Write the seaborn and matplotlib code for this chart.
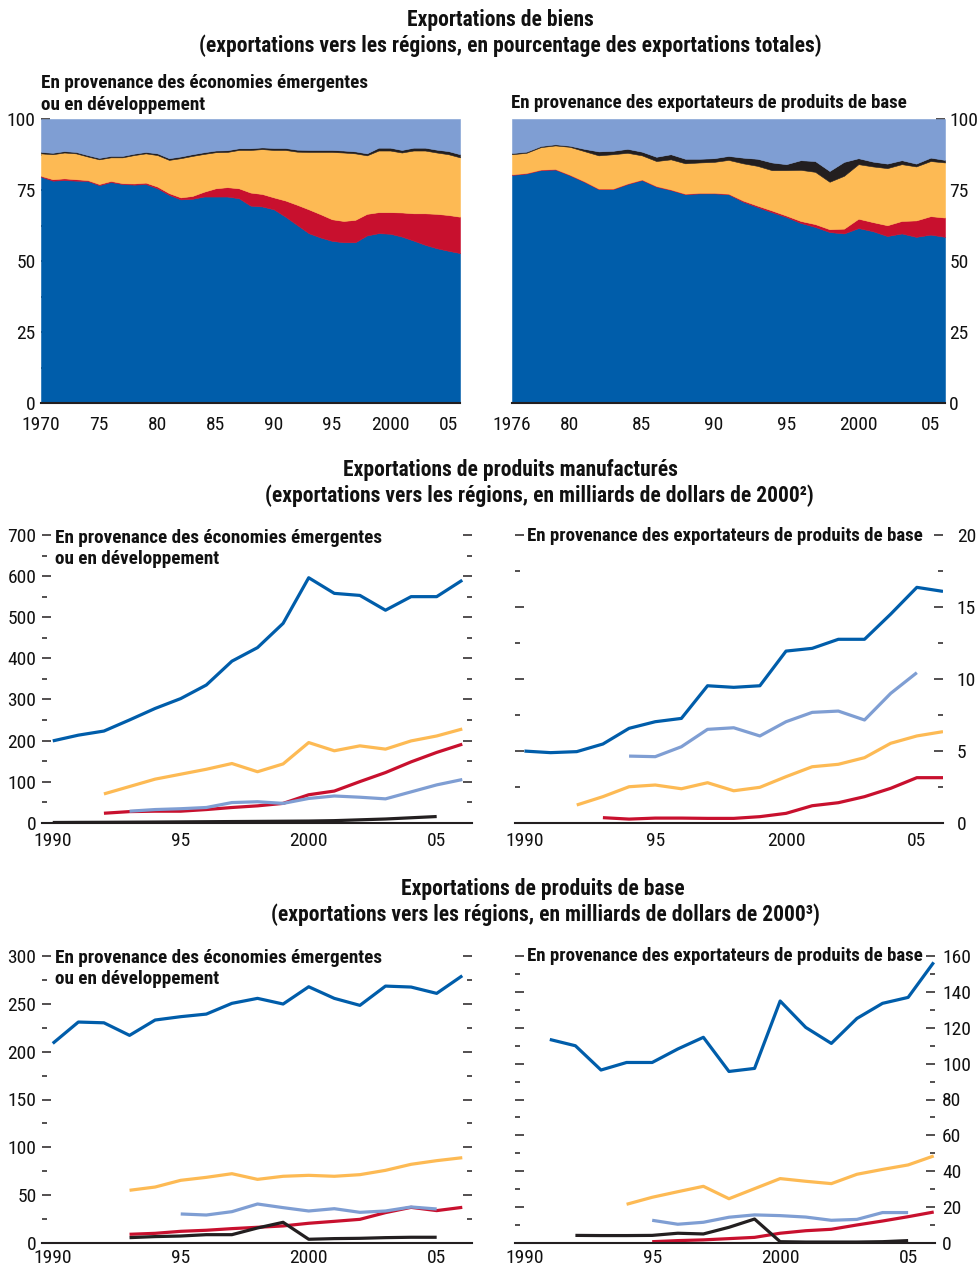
import numpy as np
import matplotlib
matplotlib.use("Agg")
import matplotlib.pyplot as plt
from matplotlib.ticker import MultipleLocator, FixedLocator, FixedFormatter
import seaborn as sns

sns.set_theme(style="white")
FONT = ["Roboto Condensed", "DejaVu Sans"]
plt.rcParams["font.family"] = FONT

DARK_BLUE = "#005DAA"
RED = "#C8102E"
ORANGE = "#FDBA54"
BLACK = "#231F20"
LIGHT_BLUE = "#7F9ED3"

# ---------------------------------------------------------------------------
# Goods exports, shares of total exports (%), stacked by destination
# ---------------------------------------------------------------------------
em_share_years = list(range(1970, 2007))
em_share_blue = [79.7, 78.3, 78.5, 78.3, 78.2, 76.7, 77.8, 77.1, 76.9, 77.1,
                 75.6, 73.3, 71.7, 71.9, 72.7, 72.7, 72.7, 72.1, 69.5, 69.2,
                 68.2, 65.6, 62.7, 59.8, 58.3, 57.1, 56.6, 56.6, 59.0, 59.8,
                 59.6, 58.6, 57.2, 55.7, 54.5, 53.6, 52.8]
em_share_red = [0.3, 0.5, 0.6, 0.5, 0.3, 0.4, 0.4, 0.3, 0.4, 0.5,
                0.6, 0.6, 0.7, 1.0, 1.7, 2.9, 3.3, 3.5, 4.6, 4.4,
                4.2, 5.7, 7.1, 8.4, 8.2, 7.6, 7.5, 7.9, 7.6, 7.4,
                7.6, 8.5, 9.6, 11.1, 12.1, 12.6, 12.8]
em_share_orange = [7.9, 8.8, 9.1, 9.1, 8.3, 8.7, 8.3, 9.1, 10.0, 10.3,
                   11.1, 11.7, 13.8, 14.1, 13.3, 12.7, 12.4, 13.5, 15.0, 15.8,
                   16.7, 17.8, 18.7, 20.2, 21.9, 23.7, 24.1, 23.4, 20.6, 21.7,
                   21.7, 21.1, 22.1, 22.1, 21.6, 21.4, 20.9]
em_share_black = [0.5, 0.5, 0.5, 0.5, 0.5, 0.5, 0.5, 0.5, 0.5, 0.5,
                  0.6, 0.6, 0.6, 0.6, 0.6, 0.6, 0.6, 0.6, 0.6, 0.6,
                  0.7, 0.7, 0.7, 0.7, 0.7, 0.7, 0.7, 0.7, 0.7, 1.0,
                  1.0, 0.9, 1.0, 1.0, 1.0, 1.1, 1.1]

cx_share_years = list(range(1976, 2007))
cx_share_blue = [80.3, 80.8, 82.0, 82.2, 80.2, 77.9, 75.3, 75.3, 77.1, 78.5,
                 76.2, 75.0, 73.5, 73.8, 73.8, 73.5, 70.9, 69.0, 67.2, 65.5,
                 63.4, 62.0, 60.2, 59.7, 61.6, 60.5, 58.8, 59.7, 58.5, 59.3,
                 58.5]
cx_share_red = [0.2, 0.2, 0.2, 0.2, 0.2, 0.2, 0.2, 0.2, 0.2, 0.2,
                0.2, 0.2, 0.2, 0.2, 0.2, 0.2, 0.4, 0.5, 0.6, 0.5,
                0.7, 1.0, 1.0, 1.7, 3.3, 3.2, 3.8, 4.4, 5.8, 6.5,
                6.8]
cx_share_orange = [7.1, 7.1, 7.9, 8.3, 9.8, 10.6, 11.7, 12.1, 10.8, 8.5,
                   8.8, 10.6, 10.7, 10.7, 10.9, 11.9, 13.1, 14.0, 14.2, 16.0,
                   18.0, 18.4, 16.7, 18.6, 19.2, 19.6, 20.1, 20.0, 19.0, 19.4,
                   19.4]
cx_share_black = [0.4, 0.4, 0.4, 0.4, 0.4, 0.8, 1.4, 1.2, 1.4, 1.3,
                  1.5, 1.8, 1.6, 1.3, 1.3, 1.4, 2.0, 2.5, 2.7, 2.1,
                  3.4, 3.8, 3.8, 4.9, 2.1, 1.7, 1.6, 1.4, 1.0, 1.2,
                  0.9]

# ---------------------------------------------------------------------------
# Manufactured exports, billions of 2000 dollars (start year, values)
# ---------------------------------------------------------------------------
man_em_blue = (1990, [199, 213, 223, 250, 278, 302, 335, 393, 426, 485,
                      596, 558, 553, 517, 550, 550, 590])
man_em_orange = (1992, [70, 88, 106, 118, 130, 144, 124, 143, 195, 175,
                        187, 179, 199, 211, 228])
man_em_red = (1992, [23, 27, 28, 28, 32, 37, 41, 47, 68, 77,
                     100, 122, 148, 171, 191])
man_em_light = (1993, [28, 32, 34, 37, 49, 51, 47, 59, 65, 62,
                       58, 75, 92, 105])
man_em_black = (1990, [0.5, 0.8, 1.0, 1.3, 1.6, 2.0, 2.4, 2.8, 3.2, 3.6,
                       4.0, 5.0, 7.0, 9.0, 12.0, 15.0])

man_cx_blue = (1990, [4.98, 4.87, 4.94, 5.47, 6.56, 7.02, 7.25, 9.52, 9.41, 9.52,
                      11.93, 12.12, 12.75, 12.75, 14.5, 16.36, 16.08])
man_cx_light = (1994, [4.63, 4.59, 5.28, 6.49, 6.60, 6.03, 7.02, 7.67, 7.76, 7.14,
                       8.99, 10.43])
man_cx_orange = (1992, [1.23, 1.81, 2.50, 2.62, 2.36, 2.78, 2.22, 2.46, 3.20, 3.89,
                        4.06, 4.52, 5.52, 6.03, 6.33])
man_cx_red = (1993, [0.35, 0.25, 0.32, 0.32, 0.30, 0.30, 0.42, 0.65, 1.18, 1.39,
                     1.81, 2.39, 3.13, 3.13])

# ---------------------------------------------------------------------------
# Commodity exports, billions of 2000 dollars (start year, values)
# ---------------------------------------------------------------------------
com_em_blue = (1990, [208.5, 230.8, 230.0, 216.9, 232.9, 236.4, 239.1, 250.3, 255.5,
                      249.6, 267.6, 255.5, 248.2, 268.3, 267.3, 260.7, 279.1])
com_em_orange = (1993, [55.3, 58.7, 65.7, 68.8, 72.6, 66.7, 69.9, 70.9, 69.9, 71.6,
                        76.1, 82.4, 86.2, 89.3])
com_em_light = (1995, [30.6, 29.5, 33.0, 41.0, 37.2, 33.7, 36.1, 32.3, 33.7, 37.9,
                       35.8])
com_em_red = (1993, [9.4, 10.4, 12.5, 13.6, 15.3, 16.7, 18.1, 20.9, 22.9, 25.0,
                     32.0, 37.5, 34.1, 37.5])
com_em_black = (1993, [5.9, 7.0, 7.6, 9.0, 9.0, 16.0, 21.9, 4.2, 4.9, 5.2,
                       5.9, 6.3, 6.3])

com_cx_blue = (1991, [113.4, 109.9, 96.4, 100.6, 100.6, 108.1, 114.6, 95.6, 97.3,
                      134.8, 120.1, 111.2, 125.1, 133.5, 136.8, 156.3])
com_cx_orange = (1994, [21.7, 25.6, 28.7, 31.7, 24.8, 30.4, 36.0, 34.5, 33.2, 38.4,
                        41.1, 43.6, 48.6])
com_cx_light = (1995, [12.8, 10.6, 11.7, 14.5, 15.8, 15.4, 14.6, 12.8, 13.3, 17.1,
                       17.1])
com_cx_red = (1995, [0.9, 1.5, 1.9, 2.6, 3.3, 5.6, 7.0, 7.8, 10.2, 12.4,
                     14.8, 17.4])
com_cx_black = (1992, [4.4, 4.3, 4.3, 4.4, 5.6, 5.2, 8.9, 13.5, 0.9, 0.7,
                       0.7, 0.7, 0.9, 1.5])

TITLE_EM = "En provenance des économies émergentes\nou en développement"
TITLE_CX = "En provenance des exportateurs de produits de base"

W, H = 978, 1266
fig = plt.figure(figsize=(W / 100, H / 100), dpi=100)


def px_axes(x0, x1, ytop, ybot):
    return fig.add_axes([x0 / W, 1 - ybot / H, (x1 - x0) / W, (ybot - ytop) / H])


def base_style(ax, xpad=6.5):
    for side in ("top", "left", "right"):
        ax.spines[side].set_visible(False)
    ax.spines["bottom"].set_color(BLACK)
    ax.spines["bottom"].set_linewidth(1.5)
    ax.set_facecolor("none")
    ax.tick_params(axis="both", which="both", direction="in", color=BLACK,
                   width=1.1, labelsize=14, labelcolor="#111111")
    ax.tick_params(which="major", length=6.5)
    ax.tick_params(which="minor", length=3.5)
    ax.tick_params(axis="x", pad=xpad)
    ax.tick_params(axis="y", pad=4)
    ax.set_xlabel("")
    ax.set_ylabel("")
    ax.grid(False)


def year_labels(ax, majors, labels):
    ax.xaxis.set_major_locator(FixedLocator(majors))
    ax.xaxis.set_major_formatter(FixedFormatter(labels))
    ax.xaxis.set_minor_locator(MultipleLocator(1))


def area_panel(ax, years, blue, red, orange, black):
    blue, red, orange, black = map(np.asarray, (blue, red, orange, black))
    rest = 100 - (blue + red + orange + black)
    ax.stackplot(years, blue, red, orange, black, rest,
                 colors=[DARK_BLUE, RED, ORANGE, BLACK, LIGHT_BLUE],
                 edgecolor="face", linewidth=0.4)
    ax.set_ylim(0, 100)
    ax.set_xlim(years[0], years[-1])
    ax.yaxis.set_major_locator(MultipleLocator(25))
    ax.yaxis.set_minor_locator(MultipleLocator(12.5))


def line_panel(ax, series):
    for (start, vals), color in series:
        yrs = np.arange(start, start + len(vals))
        sns.lineplot(x=yrs, y=vals, color=color, linewidth=2.3, ax=ax,
                     legend=False, solid_capstyle="butt")


# ---- Row 1: goods export shares ----
ax1 = px_axes(41, 460, 119, 403)
area_panel(ax1, em_share_years, em_share_blue, em_share_red, em_share_orange, em_share_black)
base_style(ax1, xpad=9)
year_labels(ax1, [1970, 1975, 1980, 1985, 1990, 1995, 2000, 2005],
            ["1970", "75", "80", "85", "90", "95", "2000", "05"])
ax1.tick_params(axis="y", which="both", left=True, right=False)

ax2 = px_axes(512, 945, 119, 403)
area_panel(ax2, cx_share_years, cx_share_blue, cx_share_red, cx_share_orange, cx_share_black)
base_style(ax2, xpad=9)
year_labels(ax2, [1976, 1980, 1985, 1990, 1995, 2000, 2005],
            ["1976", "80", "85", "90", "95", "2000", "05"])
ax2.yaxis.tick_right()
ax2.tick_params(axis="y", which="both", left=False, right=True,
                labelleft=False, labelright=True, pad=3)

# ---- Row 2: manufactured exports ----
ax3 = px_axes(42, 472, 535, 822.7)
line_panel(ax3, [(man_em_red, RED), (man_em_light, LIGHT_BLUE), (man_em_black, BLACK),
                 (man_em_orange, ORANGE), (man_em_blue, DARK_BLUE)])
base_style(ax3)
ax3.set_xlim(1989.58, 2006.38)
ax3.set_ylim(0, 700)
ax3.yaxis.set_major_locator(MultipleLocator(100))
ax3.yaxis.set_minor_locator(MultipleLocator(50))
year_labels(ax3, [1990, 1995, 2000, 2005], ["1990", "95", "2000", "05"])
ax3.tick_params(axis="y", which="both", left=True, right=True,
                labelleft=True, labelright=False)

ax4 = px_axes(515, 943, 535, 822.7)
line_panel(ax4, [(man_cx_red, RED), (man_cx_light, LIGHT_BLUE),
                 (man_cx_orange, ORANGE), (man_cx_blue, DARK_BLUE)])
base_style(ax4)
ax4.set_xlim(1989.64, 2006.0)
ax4.set_ylim(0, 20)
ax4.yaxis.set_major_locator(MultipleLocator(5))
ax4.yaxis.set_minor_locator(MultipleLocator(2.5))
year_labels(ax4, [1990, 1995, 2000, 2005], ["1990", "95", "2000", "05"])
ax4.tick_params(axis="y", which="both", left=True, right=True,
                labelleft=False, labelright=True, pad=10)

# ---- Row 3: commodity exports ----
ax5 = px_axes(42, 472, 955.7, 1243.3)
line_panel(ax5, [(com_em_red, RED), (com_em_light, LIGHT_BLUE), (com_em_black, BLACK),
                 (com_em_orange, ORANGE), (com_em_blue, DARK_BLUE)])
base_style(ax5, xpad=4)
ax5.set_xlim(1989.58, 2006.38)
ax5.set_ylim(0, 300)
ax5.yaxis.set_major_locator(MultipleLocator(50))
ax5.yaxis.set_minor_locator(MultipleLocator(25))
year_labels(ax5, [1990, 1995, 2000, 2005], ["1990", "95", "2000", "05"])
ax5.tick_params(axis="y", which="both", left=True, right=True,
                labelleft=True, labelright=False)

ax6 = px_axes(515, 935, 955.7, 1243.3)
line_panel(ax6, [(com_cx_red, RED), (com_cx_light, LIGHT_BLUE), (com_cx_black, BLACK),
                 (com_cx_orange, ORANGE), (com_cx_blue, DARK_BLUE)])
base_style(ax6, xpad=4)
ax6.set_xlim(1989.64, 2006.05)
ax6.set_ylim(0, 160)
ax6.yaxis.set_major_locator(MultipleLocator(20))
ax6.yaxis.set_minor_locator(MultipleLocator(10))
year_labels(ax6, [1990, 1995, 2000, 2005], ["1990", "95", "2000", "05"])
ax6.tick_params(axis="y", which="both", left=True, right=True,
                labelleft=False, labelright=True, pad=5)

# ---- Headings ----
def heading(x, y, text, size=15.5, ha="center", va="center"):
    fig.text(x / W, 1 - y / H, text, ha=ha, va=va, fontsize=size,
             fontweight="bold", color="#111111", linespacing=1.25)


heading(500, 20, "Exportations de biens")
heading(510, 46, "(exportations vers les régions, en pourcentage des exportations totales)")
heading(510, 470, "Exportations de produits manufacturés")
heading(539, 496, "(exportations vers les régions, en milliards de dollars de 2000²)")
heading(543, 889, "Exportations de produits de base")
heading(545, 915, "(exportations vers les régions, en milliards de dollars de 2000³)")

heading(41, 74, TITLE_EM, size=13.8, ha="left", va="top")
heading(511, 103, TITLE_CX, size=13.6, ha="left")
heading(55, 529, TITLE_EM, size=13.8, ha="left", va="top")
heading(527, 536, TITLE_CX, size=13.6, ha="left")
heading(55, 949, TITLE_EM, size=13.8, ha="left", va="top")
heading(527, 956, TITLE_CX, size=13.6, ha="left")

fig.savefig("out.png", dpi=100, facecolor="white")
